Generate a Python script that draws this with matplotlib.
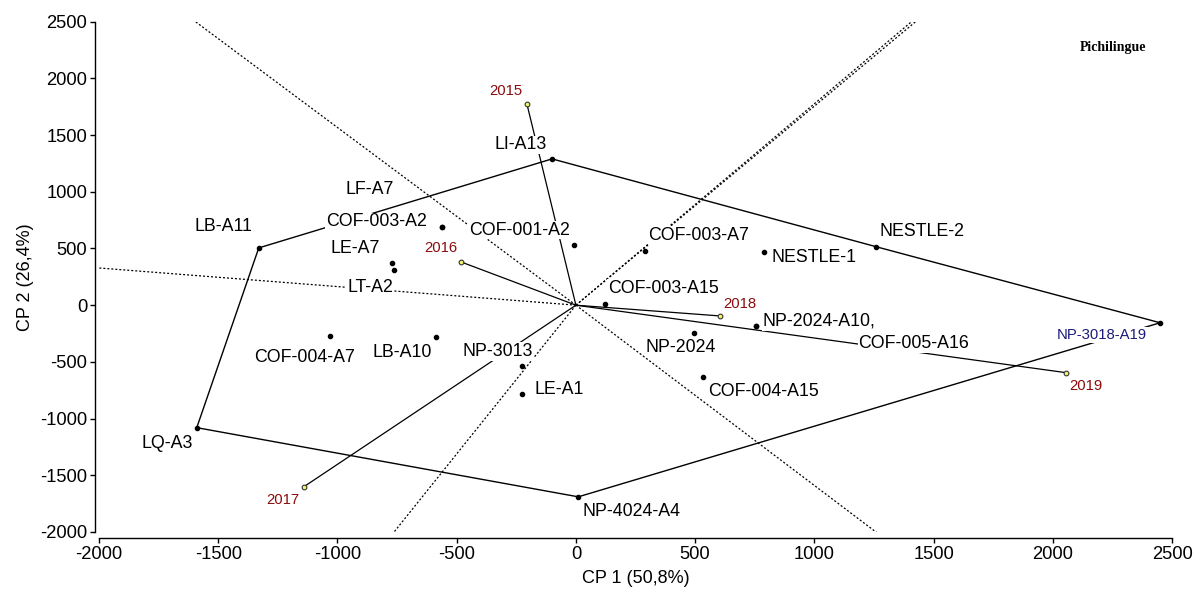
import numpy as np
import matplotlib
matplotlib.use("Agg")
import matplotlib.pyplot as plt

plt.rcParams["font.family"] = ["Liberation Sans", "DejaVu Sans"]
plt.rcParams["axes.unicode_minus"] = False

# Genotype scores on the first two principal components
genotypes = ["LI-A13", "LB-A11", "LQ-A3", "NP-4024-A4", "NP-3018-A19", "NESTLE-2",
             "COF-003-A2", "LF-A7", "LE-A7", "LT-A2", "COF-001-A2", "COF-003-A7",
             "NESTLE-1", "COF-003-A15", "NP-2024-A10", "COF-005-A16", "NP-2024",
             "COF-004-A15", "NP-3013", "LE-A1", "LB-A10", "COF-004-A7"]
g_pc1 = [-100, -1330, -1590, 10, 2450, 1260, -560, -560, -772, -763, -10, 290,
         790, 120, 755, 755, 495, 535, -228, -225, -585, -1030]
g_pc2 = [1290, 505, -1080, -1690, -155, 515, 690, 690, 370, 309, 530, 480,
         470, 10, -185, -185, -245, -630, -535, -780, -280, -275]

# Environment (year) scores
environments = ["2015", "2016", "2017", "2018", "2019"]
e_pc1 = [-205, -480, -1140, 605, 2055]
e_pc2 = [1770, 380, -1600, -95, -595]

# Vertex genotypes of the convex hull, in drawing order
hull = ["LB-A11", "LI-A13", "NESTLE-2", "NP-3018-A19", "NP-4024-A4", "LQ-A3"]

label_text = {"NP-2024-A10": "NP-2024-A10,"}

# Label offsets (pixels, right/up) relative to each mark
g_offsets = {
    "LI-A13": (-31, 14), "LB-A11": (-35, 21), "LQ-A3": (-30, -16),
    "NP-4024-A4": (53, -15), "NP-3018-A19": (-58, -12), "NESTLE-2": (46, 15),
    "COF-003-A2": (-66, 5), "LF-A7": (-73, 37), "LE-A7": (-37, 15),
    "LT-A2": (-24, -17), "COF-001-A2": (-54, 15), "COF-003-A7": (54, 15),
    "NESTLE-1": (50, -6), "COF-003-A15": (59, 16), "NP-2024-A10": (63, 5),
    "COF-005-A16": (158, -17), "NP-2024": (-13, -15), "COF-004-A15": (60, -15),
    "NP-3013": (-24, 14), "LE-A1": (37, 4), "LB-A10": (-34, -16),
    "COF-004-A7": (-26, -21),
}
e_offsets = [(-21, 13), (-21, 14), (-21, -13), (20, 12), (20, -13)]

PX = 0.72  # points per pixel at 100 dpi

fig = plt.figure(figsize=(12, 5.97), dpi=100)
ax = fig.add_axes([0.0825, 0.1089, 0.8942, 0.8548])
ax.set_xlim(-2000, 2500)
ax.set_ylim(-2000, 2500)

pos = {g: (x, y) for g, x, y in zip(genotypes, g_pc1, g_pc2)}

# Rays from the origin perpendicular to each hull side
for i in range(len(hull)):
    a = np.array(pos[hull[i]], float)
    b = np.array(pos[hull[(i + 1) % len(hull)]], float)
    d = b - a
    foot = a - (a @ d) / (d @ d) * d
    u = foot / np.linalg.norm(foot)
    ax.plot([0, u[0] * 10000], [0, u[1] * 10000], color="black", lw=0.9,
            ls=(0, (1.6, 1.6)), zorder=1)

# Convex hull
hx = [pos[g][0] for g in hull] + [pos[hull[0]][0]]
hy = [pos[g][1] for g in hull] + [pos[hull[0]][1]]
ax.plot(hx, hy, color="black", lw=1.0, zorder=2)

# Environment vectors
for x, y in zip(e_pc1, e_pc2):
    ax.plot([0, x], [0, y], color="black", lw=0.9, zorder=2)
ax.plot(e_pc1, e_pc2, ls="none", marker="o", ms=3.4, mfc="#f4f46a",
        mec="#333333", mew=0.8, zorder=4)

# Genotype marks
ax.plot(g_pc1, g_pc2, ls="none", marker="o", ms=3.0, color="black", zorder=4)

for g in genotypes:
    dx, dy = g_offsets[g]
    color = "#1b1b7a" if g == "NP-3018-A19" else "black"
    size = 10.7 if g == "NP-3018-A19" else 12.8
    ax.annotate(label_text.get(g, g), pos[g], xytext=(dx * PX, dy * PX),
                textcoords="offset points", ha="center", va="center",
                fontsize=size, color=color, zorder=5,
                bbox=dict(boxstyle="square,pad=0.05", fc="white", ec="none"))

for name, x, y, (dx, dy) in zip(environments, e_pc1, e_pc2, e_offsets):
    ax.annotate(name, (x, y), xytext=(dx * PX, dy * PX),
                textcoords="offset points", ha="center", va="center",
                fontsize=10.7, color="#8b0c0c", zorder=5)

ax.text(0.945, 0.9485, "Pichilingue", transform=ax.transAxes, ha="center",
        va="center", fontsize=10, fontweight="bold",
        family=["Liberation Serif", "DejaVu Serif"])

# Axes styling
ticks = np.arange(-2000, 2501, 500)
ax.set_xticks(ticks)
ax.set_yticks(ticks)
for s in ["top", "right"]:
    ax.spines[s].set_visible(False)
ax.spines["left"].set_position(("outward", 3))
ax.spines["bottom"].set_position(("outward", 4.3))
for s in ["left", "bottom"]:
    ax.spines[s].set_linewidth(1.0)
ax.tick_params(axis="both", length=3.6, width=1.0, labelsize=13.2, pad=2)

ax.set_xlabel("CP 1 (50,8%)", fontsize=13)
ax.set_ylabel("CP 2 (26,4%)", fontsize=13)
ax.xaxis.set_label_coords(0.5, -0.074)
ax.yaxis.set_label_coords(-0.061, 0.5)

fig.savefig("out.png", dpi=100)
